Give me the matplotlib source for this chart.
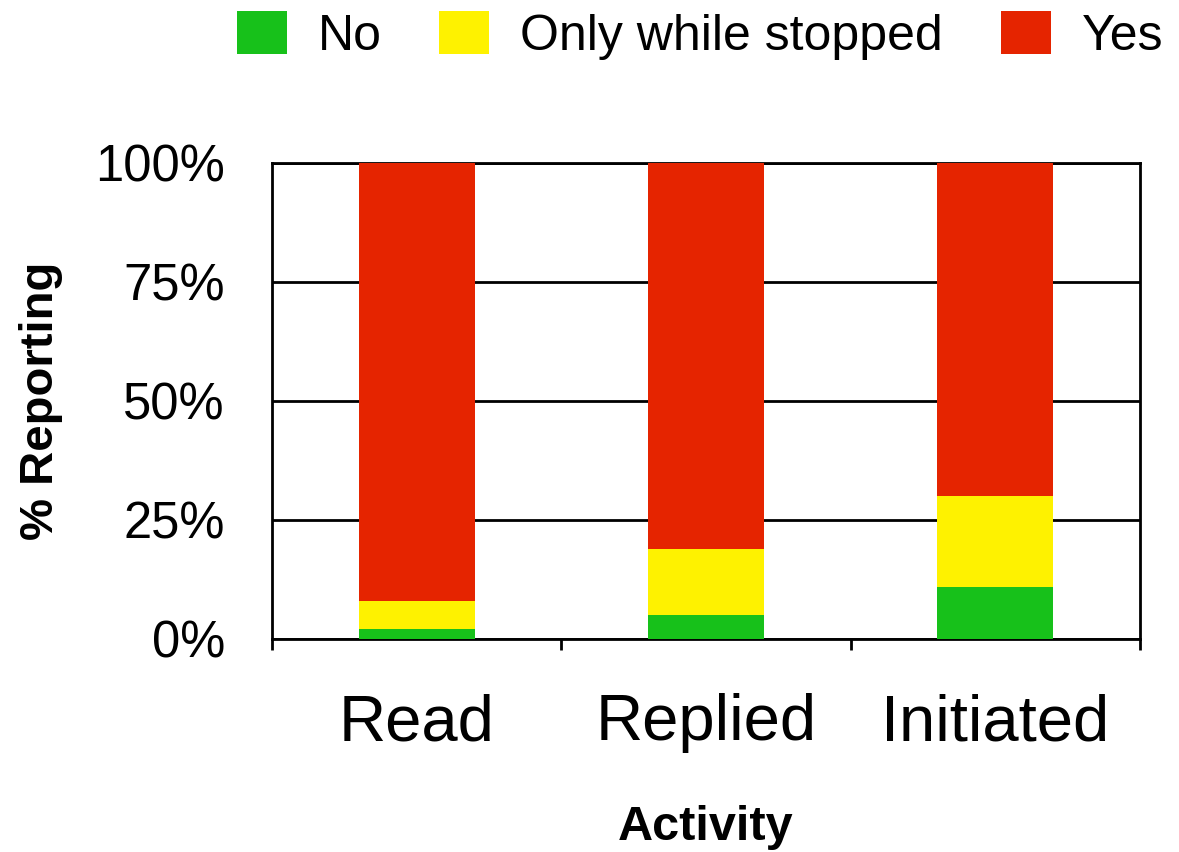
import numpy as np
import matplotlib
matplotlib.use("Agg")
import matplotlib.pyplot as plt
from matplotlib.ticker import FixedLocator, FuncFormatter

plt.rcParams["font.family"] = ["Liberation Sans", "DejaVu Sans"]

# data (percent of respondents)
activities = ["Read", "Replied", "Initiated"]
no_vals = [2, 5, 11]
stopped_vals = [6, 14, 19]
yes_vals = [92, 81, 70]

series_names = ["No", "Only while stopped", "Yes"]
colors = ["#17C11A", "#FEF200", "#E52400"]

fig = plt.figure(figsize=(11.79, 8.52), dpi=100)
ax = fig.add_axes([0.2307, 0.25, 0.9669 - 0.2307, 0.8087 - 0.25])

x = np.arange(len(activities))
bottom = np.zeros(len(activities))
handles = []
for vals, name, col in zip([no_vals, stopped_vals, yes_vals], series_names, colors):
    b = ax.bar(x, vals, width=0.4, bottom=bottom, color=col, label=name, zorder=3)
    handles.append(b)
    bottom += np.array(vals)

ax.set_xlim(-0.5, len(activities) - 0.5)
ax.set_ylim(0, 100)

# gridlines
ax.set_yticks([0, 25, 50, 75, 100])
ax.yaxis.set_major_formatter(FuncFormatter(lambda v, p: f"{int(v)}%"))
ax.grid(axis="y", color="black", linewidth=2, zorder=1)
ax.tick_params(axis="y", length=0, pad=34, labelsize=36.5)

# category boundaries as major ticks, labels on minor ticks
ax.xaxis.set_major_locator(FixedLocator(np.arange(-0.5, len(activities), 1.0)))
ax.xaxis.set_major_formatter(FuncFormatter(lambda v, p: ""))
ax.xaxis.set_minor_locator(FixedLocator(x))
ax.set_xticklabels(activities, minor=True)
ax.tick_params(axis="x", which="major", length=8, width=2, direction="out")
ax.tick_params(axis="x", which="minor", length=0, pad=39, labelsize=47)

for side in ["left", "right", "top", "bottom"]:
    ax.spines[side].set_linewidth(2)
    ax.spines[side].set_color("black")

ax.set_ylabel("% Reporting", fontsize=34, fontweight="bold", labelpad=23)
ax.set_xlabel("Activity", fontsize=35, fontweight="bold", labelpad=37)

fig.legend(handles=handles, labels=series_names, loc="upper right",
           bbox_to_anchor=(1163 / 1179, 1 - 11 / 852), ncol=3, frameon=False,
           fontsize=36, handlelength=1.0, handleheight=0.95, handletextpad=0.62,
           columnspacing=1.15, borderpad=0, borderaxespad=0)

fig.savefig("out.png", dpi=100)
